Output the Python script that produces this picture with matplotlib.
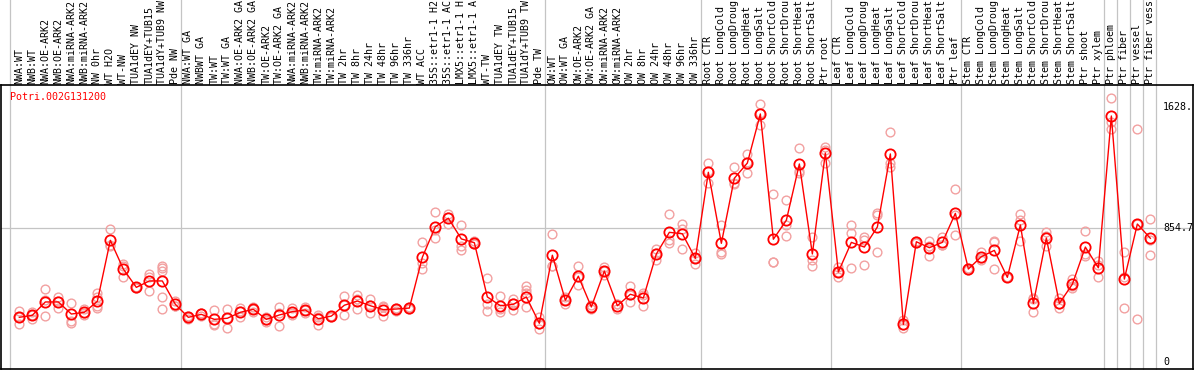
import matplotlib
matplotlib.use("Agg")
import matplotlib.pyplot as plt
import matplotlib.transforms as mtransforms

# sample labels, by group (text as shown, long ones are cut off at the top)
nw_labels = ["NWA:WT", "NWB:WT", "NWA:OE-ARK2", "NWB:OE-ARK2", "NWA:miRNA-ARK2",
             "NWB:miRNA-ARK2", "NW 0hr", "WT H2O", "WT-NW", "TUA1dEY NW",
             "TUA1dEY+TUB15", "TUA1dY+TUB9 NW", "Pde NW"]
tw_labels = ["NWA:WT GA", "NWBWT GA", "TW:WT", "TW:WT GA", "NWA:OE-ARK2 GA",
             "NWB:OE-ARK2 GA", "TW:OE-ARK2", "TW:OE-ARK2 GA", "NWA:miRNA-ARK2",
             "NWB:miRNA-ARK2", "TW:miRNA-ARK2", "TW:miRNA-ARK2", "TW 2hr", "TW 8hr",
             "TW 24hr", "TW 48hr", "TW 96hr", "TW 336hr", "WT ACC", "35S::etr1-1 H2",
             "35S::etr1-1 AC", "LMX5::etr1-1 H", "LMX5::etr1-1 A", "WT-TW",
             "TUA1dEY TW", "TUA1dEY+TUB15", "TUA1dY+TUB9 TW", "Pde TW"]
ow_labels = ["OW:WT", "OW:WT GA", "OW:OE-ARK2", "OW:OE-ARK2 GA", "OW:miRNA-ARK2",
             "OW:miRNA-ARK2", "OW 2hr", "OW 8hr", "OW 24hr", "OW 48hr", "OW 96hr",
             "OW 336hr"]
root_labels = ["Root CTR", "Root LongCold", "Root LongDroug", "Root LongHeat",
               "Root LongSalt", "Root ShortCold", "Root ShortDrou", "Root ShortHeat",
               "Root ShortSalt", "Ptr root"]
leaf_labels = ["Leaf CTR", "Leaf LongCold", "Leaf LongDroug", "Leaf LongHeat",
               "Leaf LongSalt", "Leaf ShortCold", "Leaf ShortDrou", "Leaf ShortHeat",
               "Leaf ShortSalt", "Ptr leaf"]
stem_labels = ["Stem CTR", "Stem LongCold", "Stem LongDroug", "Stem LongHeat",
               "Stem LongSalt", "Stem ShortCold", "Stem ShortDrou", "Stem ShortHeat",
               "Stem ShortSalt", "Ptr shoot", "Ptr xylem"]
tissue_labels = ["Ptr phloem", "Ptr fiber", "Ptr vessel", "Ptr fiber vess"]

groups = [nw_labels, tw_labels, ow_labels, root_labels, leaf_labels, stem_labels,
          tissue_labels[0:1], tissue_labels[1:2], tissue_labels[2:3], tissue_labels[3:4]]
labels = [l for g in groups for l in g]

gene = "Potri.002G131200"
max_val = 1628.
mid_val = 854.7

# mean expression per sample
means = [285, 298, 383, 383, 306, 317, 387, 776, 593, 476, 517, 517, 368,
         285, 304, 272, 279, 317, 336, 272, 300, 321, 332, 276, 293, 362, 389, 359,
         334, 338, 344, 668, 863, 917, 785, 761, 415, 359, 368, 415, 247, 681,
         394, 547, 351, 580, 359, 432, 408, 689, 827, 818, 661,
         1210, 757, 1172, 1269, 1582, 783, 904, 1263, 689, 1333,
         574, 763, 733, 861, 1327, 240, 767, 729, 763, 948,
         593, 672, 712, 540, 874, 374, 791, 374, 496, 733, 601,
         1569, 529, 880, 789]

# replicates
reps = [[325, 244, 285], [317, 276, 298], [464, 291, 395], [415, 342, 392],
        [374, 263, 251], [312, 298, 340], [438, 359, 344, 413], [846, 744, 740],
        [625, 540, 615], [470, 480, 478], [561, 451, 540], [614, 600, 582, 413, 340],
        [391, 357, 356],
        [285, 275, 295], [311, 291, 310], [332, 244, 234], [338, 217, 282],
        [342, 285, 324], [353, 317, 338], [289, 257, 270], [353, 232, 315],
        [342, 300, 313], [332, 314, 350], [302, 238, 288], [290, 296, 293],
        [419, 302, 365], [429, 400, 338], [402, 311, 364], [353, 291, 358],
        [346, 327, 341], [340, 348, 344], [763, 633, 591], [955, 789, 845],
        [946, 923, 882], [872, 742, 714], [761, 750, 770], [534, 368, 327],
        [419, 321, 340], [400, 330, 374], [485, 457, 438, 353],
        [289, 210, 242], [818, 612, 613], [417, 370, 395], [610, 489, 542],
        [336, 351, 366], [604, 555, 581], [338, 370, 369], [483, 385, 428],
        [442, 357, 425], [721, 651, 695], [944, 759, 778], [882, 723, 849],
        [697, 623, 663],
        [1269, 1144, 1217], [874, 704, 691], [1242, 1133, 1141], [1327, 1203, 1277],
        [1644, 1512, 1590], [1070, 640, 640], [1031, 874, 804], [1363, 1207, 1219],
        [799, 651, 614], [1373, 1271, 1355],
        [574, 544, 604], [874, 825, 598], [799, 619, 781], [948, 700, 935],
        [1465, 1246, 1270], [268, 215, 237], [767, 760, 774], [770, 678, 739],
        [795, 746, 748], [1101, 808, 935],
        [593, 585, 600], [702, 649, 665], [774, 595, 767], [540, 540, 540],
        [942, 772, 908], [406, 317, 399], [829, 742, 802], [406, 346, 370],
        [531, 483, 474], [834, 676, 689], [644, 540, 619],
        [1682, 1529, 1484], [700, 342, 545], [1484, 274, 882], [910, 681, 776]]

x = list(range(len(means)))

fig = plt.figure(figsize=(11.94, 3.70), dpi=100)
ax = fig.add_axes([1 / 1194, 1 / 370, 1192 / 1194, 284 / 370])
ax.set_xlim(-1.41, 90.28)
ax.set_ylim(-44.6, 1766.7)
ax.set_xticks([])
ax.set_yticks([])
for s in ax.spines.values():
    s.set_color("black")
    s.set_linewidth(1.2)

# grid: one line at the middle value, vertical lines between groups (run up through the labels)
ax.axhline(mid_val, color="#c4c4c4", lw=0.9, zorder=0)
bounds = [-0.7]
pos = 0
for g in groups:
    pos += len(g)
    bounds.append(pos - 0.57)
for b in bounds:
    ax.axvline(b, ymin=0, ymax=1 + 85 / 284, color="#c4c4c4", lw=0.9, clip_on=False, zorder=0)

# replicate points
for xi, r in zip(x, reps):
    ax.plot([xi] * len(r), r, "o", ms=6.3, mfc="none", mec="#f2a0a0", mew=1.0, zorder=2)

ax.plot(x, means, "-", color="red", lw=1.0, zorder=3)
ax.plot(x, means, "o", ms=7.4, mfc="none", mec="red", mew=1.3, zorder=4)

mono = "DejaVu Sans Mono"
trans = mtransforms.blended_transform_factory(ax.transData, ax.transAxes)
for xi, lab in zip(x, labels):
    ax.text(xi, 1.004, lab, transform=trans, rotation=90, ha="center", va="bottom",
            fontsize=7.2, family=mono, clip_on=False)

ax.text(0.0075, 0.975, gene, transform=ax.transAxes, color="red", fontsize=7.2,
        family=mono, va="top", ha="left")

# value labels on the right
ytrans = mtransforms.blended_transform_factory(ax.transAxes, ax.transData)
for v, t in [(max_val, "1628."), (mid_val, "854.7"), (0, "0")]:
    ax.text(0.9748, v, t, transform=ytrans, fontsize=7.2, family=mono,
            va="center", ha="left")

fig.savefig("out.png", dpi=100)
